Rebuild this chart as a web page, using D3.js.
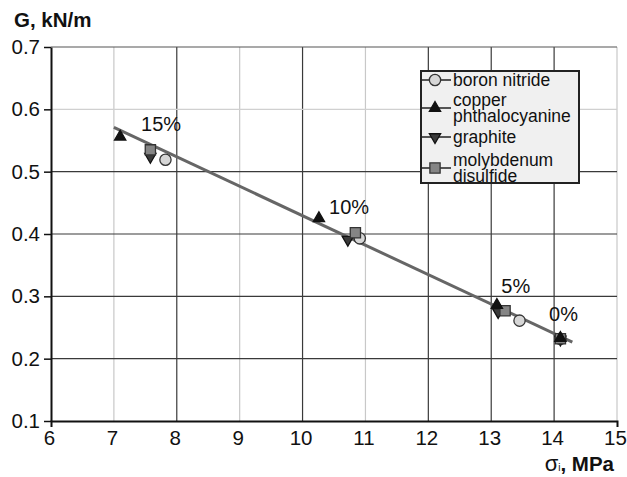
<!DOCTYPE html>
<html>
<head>
<meta charset="utf-8">
<script src="https://cdn.jsdelivr.net/npm/d3@7"></script>
<style>
  body { margin: 0; background: #fff; }
  svg { display: block; }
  text { font-family: "Liberation Sans", Arial, sans-serif; fill: #111; }
</style>
</head>
<body>
<svg id="chart" width="627" height="477"></svg>
<script>
// Axis ticks
const xTicks = [6, 7, 8, 9, 10, 11, 12, 13, 14, 15];
const yTicks = [0.1, 0.2, 0.3, 0.4, 0.5, 0.6, 0.7];

// Measured points: [sigma_i (MPa), G (kN/m)] at 15%, 10%, 5%, 0% additive
const seriesNames = ["boron nitride", "copper phthalocyanine", "graphite", "molybdenum disulfide"];
const boronNitride         = [[7.82, 0.519], [10.91, 0.393], [13.45, 0.261], [14.10, 0.232]];
const copperPhthalocyanine = [[7.10, 0.556], [10.26, 0.425], [13.09, 0.286], [14.10, 0.233]];
const graphite             = [[7.58, 0.524], [10.72, 0.391], [13.11, 0.275], [14.10, 0.231]];
const molybdenumDisulfide  = [[7.58, 0.535], [10.84, 0.402], [13.22, 0.277], [14.10, 0.232]];

// Linear trend through all points
const trendLine = [[7.0, 0.571], [14.29, 0.2266]];

// Additive concentration annotations, anchored in data units
const concentrationLabels  = ["15%", "10%", "5%", "0%"];
const concentrationAnchors = [[7.75, 0.577], [10.74, 0.443], [13.39, 0.316], [14.15, 0.272]];

const svg = d3.select("#chart");
const plot = { left: 51, right: 617, top: 47, bottom: 421 };

const x = d3.scaleLinear().domain([6, 15]).range([plot.left, plot.right]);
const y = d3.scaleLinear().domain([0.1, 0.7]).range([plot.bottom, plot.top]);

// Grid (some lines print lighter)
const lightX = new Set([7, 9, 11, 15]);
const lightY = new Set([0.6]);
svg.append("g").selectAll("line").data(xTicks.slice(1)).join("line")
  .attr("x1", d => x(d)).attr("x2", d => x(d))
  .attr("y1", y(0.7)).attr("y2", y(0.1))
  .attr("stroke", d => lightX.has(d) ? "#c8c8c8" : "#3a3a3a")
  .attr("stroke-width", 1.2);
svg.append("g").selectAll("line").data(yTicks.slice(1)).join("line")
  .attr("x1", x(6)).attr("x2", x(15))
  .attr("y1", d => y(d)).attr("y2", d => y(d))
  .attr("stroke", d => lightY.has(d) ? "#d0d0d0" : (d === 0.7 ? "#555" : "#3a3a3a"))
  .attr("stroke-width", 1.2);

// Axes
const xAxis = svg.append("g").attr("transform", `translate(0,${plot.bottom})`)
  .call(d3.axisBottom(x).tickValues(xTicks).tickSizeInner(0).tickSizeOuter(6).tickPadding(9).tickFormat(d3.format("d")));
const yAxis = svg.append("g").attr("transform", `translate(${plot.left},0)`)
  .call(d3.axisLeft(y).tickValues(yTicks).tickSizeInner(7).tickSizeOuter(0).tickPadding(4).tickFormat(d3.format(".1f")));
[xAxis, yAxis].forEach(a => {
  a.select(".domain").attr("stroke", "#111").attr("stroke-width", 2);
  a.selectAll(".tick line").attr("stroke", "#111").attr("stroke-width", 1.5);
  a.selectAll(".tick text").attr("font-size", 20.5).attr("fill", "#111")
    .style("font-family", "'Liberation Sans', Arial, sans-serif");
});
xAxis.selectAll(".tick text").attr("dy", "0.71em").attr("dx", -2);

// Axis titles
svg.append("text").attr("x", 14).attr("y", 27)
  .attr("font-size", 20.5).attr("font-weight", "bold").text("G, kN/m");
const xt = svg.append("text").attr("x", 614).attr("y", 471).attr("text-anchor", "end")
  .attr("font-size", 20.5).attr("font-weight", "bold");
xt.append("tspan").attr("font-weight", "normal").attr("font-size", 22).text("σ");
xt.append("tspan").attr("font-size", 10).attr("font-weight", "normal").text("i");
xt.append("tspan").text(", MPa");

// Trend line
svg.append("path").datum(trendLine)
  .attr("d", d3.line().x(d => x(d[0])).y(d => y(d[1])))
  .attr("stroke", "#666").attr("stroke-width", 3).attr("fill", "none");

// Marker styles
const markerStyle = {
  "boron nitride":        { shape: d3.symbolCircle,   size: 100, fill: "#d6d6d6", stroke: "#333", rot: 0 },
  "copper phthalocyanine":{ shape: d3.symbolTriangle, size: 55,  fill: "#111",    stroke: "#111", rot: 0 },
  "graphite":             { shape: d3.symbolTriangle, size: 55,  fill: "#3a3a3a", stroke: "#111", rot: 180 },
  "molybdenum disulfide": { shape: d3.symbolSquare,   size: 105, fill: "#858585", stroke: "#333", rot: 0 }
};
const seriesData = {
  "boron nitride": boronNitride,
  "copper phthalocyanine": copperPhthalocyanine,
  "graphite": graphite,
  "molybdenum disulfide": molybdenumDisulfide
};
const drawOrder = ["boron nitride", "graphite", "molybdenum disulfide", "copper phthalocyanine"];

function marker(g, name) {
  const s = markerStyle[name];
  g.append("path")
    .attr("d", d3.symbol().type(s.shape).size(s.size)())
    .attr("transform", `rotate(${s.rot})`)
    .attr("fill", s.fill).attr("stroke", s.stroke).attr("stroke-width", 1.3);
}

drawOrder.forEach(name => {
  svg.append("g").selectAll("g").data(seriesData[name]).join("g")
    .attr("transform", d => `translate(${x(d[0])},${y(d[1])})`)
    .each(function () { marker(d3.select(this), name); });
});

// Concentration labels
svg.append("g").selectAll("text").data(concentrationLabels).join("text")
  .attr("x", (d, i) => x(concentrationAnchors[i][0]))
  .attr("y", (d, i) => y(concentrationAnchors[i][1]))
  .attr("dy", "0.35em").attr("text-anchor", "middle")
  .attr("font-size", 20).text(d => d);

// Legend
const legend = svg.append("g");
legend.append("rect").attr("x", 421).attr("y", 71).attr("width", 158).attr("height", 112)
  .attr("fill", "#f0f0f0").attr("stroke", "#222").attr("stroke-width", 2);
const legendRows = [
  { name: seriesNames[0], lines: ["boron nitride"], my: 80 },
  { name: seriesNames[1], lines: ["copper", "phthalocyanine"], my: 108 },
  { name: seriesNames[2], lines: ["graphite"], my: 137 },
  { name: seriesNames[3], lines: ["molybdenum", "disulfide"], my: 168 }
];
legendRows.forEach(r => {
  const g = legend.append("g");
  g.append("line").attr("x1", 421).attr("x2", 451).attr("y1", r.my).attr("y2", r.my)
    .attr("stroke", "#222").attr("stroke-width", 1.5);
  marker(g.append("g").attr("transform", `translate(435,${r.my})`), r.name);
  const t = g.append("text").attr("x", 453).attr("font-size", 17.5);
  const n = r.lines.length;
  r.lines.forEach((l, i) => {
    t.append("tspan").attr("x", 453).attr("y", r.my + (i - (n - 1) / 2) * 15.5)
      .attr("dy", "0.35em").text(l);
  });
});
</script>
</body>
</html>
